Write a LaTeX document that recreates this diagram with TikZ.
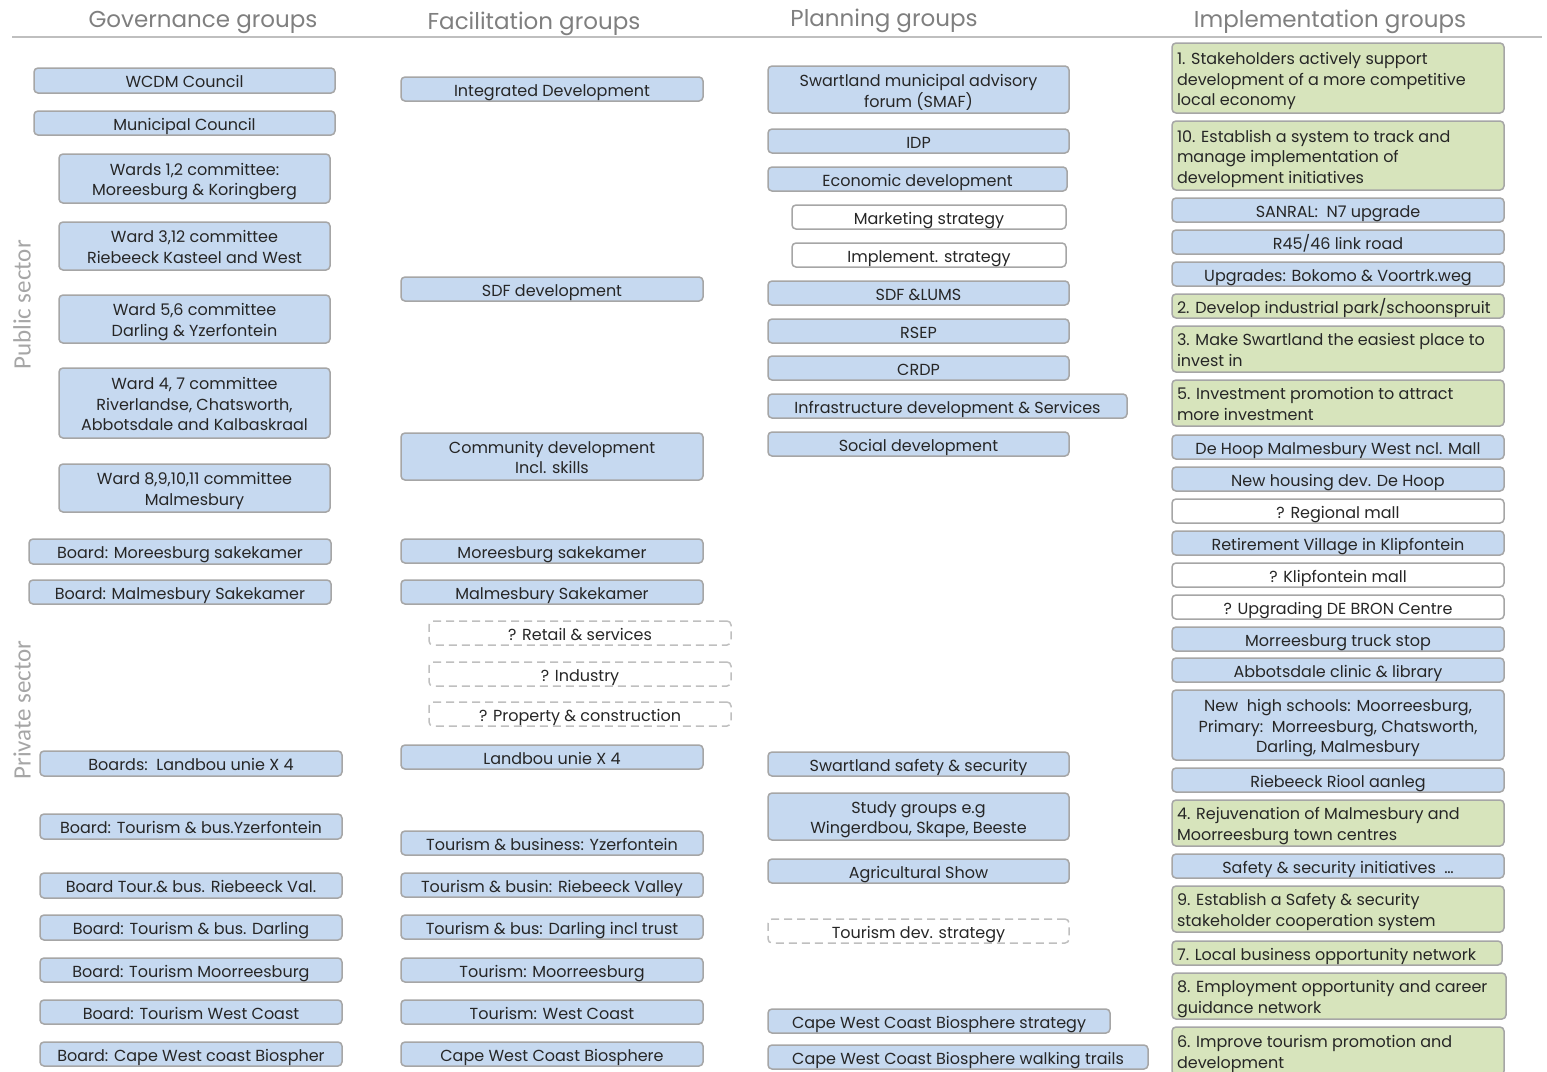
\documentclass[tikz,border=0pt]{standalone}
\usepackage{fontspec}
\setmainfont{Poppins}
\newfontfamily\sidefont{Carlito}
\definecolor{bfill}{HTML}{C6D9F0}
\definecolor{gfill}{HTML}{D7E4BC}
\definecolor{edge}{HTML}{A6A6A6}
\definecolor{dashc}{HTML}{BFBFBF}
\definecolor{txt}{HTML}{262626}
\definecolor{headc}{HTML}{7F7F7F}
\definecolor{sidec}{HTML}{A6A6A6}
\tikzset{
  basebox/.style={draw=edge, line width=1.5pt, rounded corners=4pt, inner sep=0pt,
    text=txt, font=\fontsize{16}{20.5}\selectfont},
  bluebox/.style={basebox, fill=bfill},
  whitebox/.style={basebox, fill=white},
  dashbox/.style={basebox, draw=dashc, dash pattern=on 8pt off 5pt, fill=white},
  greenbox/.style={basebox, fill=gfill},
  head/.style={text=headc, font=\fontsize{23}{26}\selectfont},
  side/.style={rotate=90, text=sidec, font=\sidefont\fontsize{25}{26}\selectfont}
}
% centred box
\newcommand\mybox[7]{\node[#1, minimum width={(#5-#3)*1pt}, minimum height={(#6-#4)*1pt}] (#2) at ({(#3+#5)/2},{(#4+#6)/2}) {\raisebox{-3pt}[\height][\depth]{\begin{tabular}{@{}c@{}}#7\end{tabular}}};}
% left aligned box
\newcommand\mylbox[7]{\node[#1, minimum width={(#5-#3)*1pt}, minimum height={(#6-#4)*1pt}] (#2) at ({(#3+#5)/2},{(#4+#6)/2}) {\makebox[\dimexpr#5pt-#3pt-10pt\relax][l]{\raisebox{-3pt}[\height][\depth]{\begin{tabular}{@{}l@{}}#7\end{tabular}}}};}
\begin{document}
\begin{tikzpicture}[x=1pt,y=-1pt]
\useasboundingbox (0,0) rectangle (1547,1071);
% headings
\node[head] (hg) at (203,22) {Governance groups};
\node[head] (hf) at (534,24) {Facilitation groups};
\node[head] (hp) at (884,21) {Planning groups};
\node[head] (hi) at (1330,22) {Implementation groups};
\coordinate (la) at (12,37);
\coordinate (lb) at (1542,37);
\draw[dashc, line width=1.2pt] (la) -- (lb);
\node[side] (pub) at (22,305) {Public sector};
\node[side] (priv) at (22,710) {Private sector};
% Governance
\mybox{bluebox}{g1}{34}{68}{335}{93}{WCDM Council}
\mybox{bluebox}{g2}{34}{111}{335}{135}{Municipal Council}
\mybox{bluebox}{g3}{59}{154}{330}{203}{Wards 1,2 committee:\\Moreesburg \& Koringberg}
\mybox{bluebox}{g4}{59}{222}{330}{270}{Ward 3,12 committee\\Riebeeck Kasteel and West}
\mybox{bluebox}{g5}{59}{295}{330}{343}{Ward 5,6 committee\\Darling \& Yzerfontein}
\mybox{bluebox}{g6}{59}{368}{330}{438}{Ward 4, 7 committee\\Riverlandse, Chatsworth,\\Abbotsdale and Kalbaskraal}
\mybox{bluebox}{g7}{59}{464}{330}{512}{Ward 8,9,10,11 committee\\Malmesbury}
\mybox{bluebox}{g8}{29}{539}{331}{564}{Board: Moreesburg sakekamer}
\mybox{bluebox}{g9}{29}{580}{331}{604}{Board: Malmesbury Sakekamer}
\mybox{bluebox}{g10}{40}{751}{342}{776}{Boards:\ \ Landbou unie X 4}
\mybox{bluebox}{g11}{40}{814}{342}{839}{Board: Tourism \& bus.Yzerfontein}
\mybox{bluebox}{g12}{40}{873}{342}{898}{Board Tour.\& bus. Riebeeck Val.}
\mybox{bluebox}{g13}{40}{915}{342}{940}{Board: Tourism \& bus. Darling}
\mybox{bluebox}{g14}{40}{958}{342}{982}{Board: Tourism Moorreesburg}
\mybox{bluebox}{g15}{40}{1000}{342}{1024}{Board: Tourism West Coast}
\mybox{bluebox}{g16}{40}{1042}{342}{1066}{Board: Cape West coast Biospher}
% Facilitation
\mybox{bluebox}{f1}{401}{77}{703}{101}{Integrated Development}
\mybox{bluebox}{f2}{401}{277}{703}{301}{SDF development}
\mybox{bluebox}{f3}{401}{433}{703}{480}{Community development\\Incl. skills}
\mybox{bluebox}{f4}{401}{539}{703}{563}{Moreesburg sakekamer}
\mybox{bluebox}{f5}{401}{580}{703}{604}{Malmesbury Sakekamer}
\mybox{dashbox}{f6}{429}{621}{731}{645}{? Retail \& services}
\mybox{dashbox}{f7}{429}{662}{731}{686}{? Industry}
\mybox{dashbox}{f8}{429}{702}{731}{726}{? Property \& construction}
\mybox{bluebox}{f9}{401}{745}{703}{769}{Landbou unie X 4}
\mybox{bluebox}{f10}{401}{831}{703}{855}{Tourism \& business: Yzerfontein}
\mybox{bluebox}{f11}{401}{873}{703}{897}{Tourism \& busin: Riebeeck Valley}
\mybox{bluebox}{f12}{401}{915}{703}{939}{Tourism \& bus: Darling incl trust}
\mybox{bluebox}{f13}{401}{958}{703}{982}{Tourism: Moorreesburg}
\mybox{bluebox}{f14}{401}{1000}{703}{1024}{Tourism: West Coast}
\mybox{bluebox}{f15}{401}{1042}{703}{1066}{Cape West Coast Biosphere}
% Planning
\mybox{bluebox}{p1}{768}{66}{1069}{113}{Swartland municipal advisory\\forum (SMAF)}
\mybox{bluebox}{p2}{768}{129}{1069}{153}{IDP}
\mybox{bluebox}{p3}{768}{167}{1067}{191}{Economic development}
\mybox{whitebox}{p4}{792}{205}{1066}{229}{Marketing strategy}
\mybox{whitebox}{p5}{792}{243}{1066}{267}{Implement. strategy}
\mybox{bluebox}{p6}{768}{281}{1069}{305}{SDF \&LUMS}
\mybox{bluebox}{p7}{768}{319}{1069}{343}{RSEP}
\mybox{bluebox}{p8}{768}{356}{1069}{380}{CRDP}
\mybox{bluebox}{p9}{768}{394}{1127}{418}{Infrastructure development \& Services}
\mybox{bluebox}{p10}{768}{432}{1069}{456}{Social development}
\mybox{bluebox}{p11}{768}{752}{1069}{776}{Swartland safety \& security}
\mybox{bluebox}{p12}{768}{793}{1069}{840}{Study groups e.g\\Wingerdbou, Skape, Beeste}
\mybox{bluebox}{p13}{768}{859}{1069}{883}{Agricultural Show}
\mybox{dashbox}{p14}{768}{919}{1069}{943}{Tourism dev. strategy}
\mybox{bluebox}{p15}{768}{1009}{1110}{1033}{Cape West Coast Biosphere strategy}
\mybox{bluebox}{p16}{768}{1045}{1148}{1069}{Cape West Coast Biosphere walking trails}
% Implementation
\mylbox{greenbox}{i1}{1172}{43}{1504}{113}{1. Stakeholders actively support\\development of a more competitive\\local economy}
\mylbox{greenbox}{i2}{1172}{121}{1504}{190}{10. Establish a system to track and\\manage implementation of\\development initiatives}
\mybox{bluebox}{i3}{1172}{198}{1504}{222}{SANRAL:\ \ N7 upgrade}
\mybox{bluebox}{i4}{1172}{230}{1504}{254}{R45/46 link road}
\mybox{bluebox}{i5}{1172}{262}{1504}{286}{Upgrades: Bokomo \& Voortrk.weg}
\mylbox{greenbox}{i6}{1172}{294}{1504}{318}{2. Develop industrial park/schoonspruit}
\mylbox{greenbox}{i7}{1172}{326}{1504}{372}{3. Make Swartland the easiest place to\\invest in}
\mylbox{greenbox}{i8}{1172}{380}{1504}{426}{5. Investment promotion to attract\\more investment}
\mybox{bluebox}{i9}{1172}{435}{1504}{459}{De Hoop Malmesbury West ncl. Mall}
\mybox{bluebox}{i10}{1172}{467}{1504}{491}{New housing dev. De Hoop}
\mybox{whitebox}{i11}{1172}{499}{1504}{523}{? Regional mall}
\mybox{bluebox}{i12}{1172}{531}{1504}{555}{Retirement Village in Klipfontein}
\mybox{whitebox}{i13}{1172}{563}{1504}{587}{? Klipfontein mall}
\mybox{whitebox}{i14}{1172}{595}{1504}{619}{? Upgrading DE BRON Centre}
\mybox{bluebox}{i15}{1172}{627}{1504}{651}{Morreesburg truck stop}
\mybox{bluebox}{i16}{1172}{658}{1504}{682}{Abbotsdale clinic \& library}
\mybox{bluebox}{i17}{1172}{690}{1504}{760}{New\ \ high schools: Moorreesburg,\\Primary:\ \ Morreesburg, Chatsworth,\\Darling, Malmesbury}
\mybox{bluebox}{i18}{1172}{768}{1504}{792}{Riebeeck Riool aanleg}
\mylbox{greenbox}{i19}{1172}{800}{1504}{846}{4. Rejuvenation of Malmesbury and\\Moorreesburg town centres}
\mybox{bluebox}{i20}{1172}{854}{1504}{878}{Safety \& security initiatives\ \ \dots}
\mylbox{greenbox}{i21}{1172}{886}{1504}{932}{9. Establish a Safety \& security\\stakeholder cooperation system}
\mylbox{greenbox}{i22}{1172}{941}{1502}{965}{7. Local business opportunity network}
\mylbox{greenbox}{i23}{1172}{973}{1506}{1019}{8. Employment opportunity and career\\guidance network}
\mylbox{greenbox}{i24}{1172}{1027}{1504}{1075}{6. Improve tourism promotion and\\development}
\end{tikzpicture}
\end{document}
